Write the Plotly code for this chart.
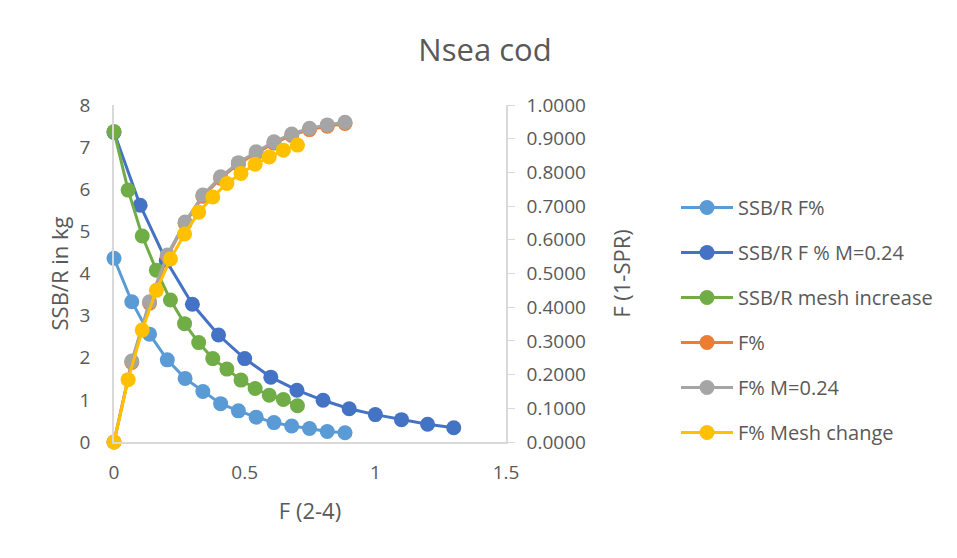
import plotly.graph_objects as go

# ---- data ----
x_f = [0, 0.068, 0.136, 0.204, 0.272, 0.340, 0.408, 0.476, 0.544, 0.612, 0.680, 0.748, 0.816, 0.884]
x_m024 = [0, 0.1, 0.2, 0.3, 0.4, 0.5, 0.6, 0.7, 0.8, 0.9, 1.0, 1.1, 1.2, 1.3]
x_mesh = [0, 0.054, 0.108, 0.162, 0.216, 0.270, 0.324, 0.378, 0.432, 0.486, 0.540, 0.594, 0.648, 0.702]

ssbr_f = [4.36, 3.33, 2.56, 1.95, 1.51, 1.20, 0.91, 0.74, 0.59, 0.46, 0.38, 0.32, 0.25, 0.22]
ssbr_f_m024 = [7.35, 5.62, 4.30, 3.27, 2.54, 1.98, 1.54, 1.23, 0.99, 0.79, 0.65, 0.53, 0.42, 0.34]
ssbr_mesh = [7.37, 5.98, 4.89, 4.08, 3.37, 2.81, 2.36, 1.98, 1.73, 1.47, 1.27, 1.11, 1.01, 0.86]

fpct = [0, 0.236, 0.412, 0.551, 0.649, 0.729, 0.783, 0.825, 0.857, 0.887, 0.910, 0.927, 0.937, 0.945]
fpct_m024 = [0, 0.240, 0.416, 0.555, 0.653, 0.733, 0.787, 0.829, 0.861, 0.891, 0.914, 0.931, 0.941, 0.949]
fpct_mesh = [0, 0.185, 0.332, 0.450, 0.543, 0.617, 0.682, 0.727, 0.767, 0.797, 0.824, 0.846, 0.866, 0.881]

names = ["SSB/R F%", "SSB/R F % M=0.24", "SSB/R mesh increase", "F%", "F% M=0.24", "F% Mesh change"]
colors = ["#5B9BD5", "#4472C4", "#70AD47", "#ED7D31", "#A5A5A5", "#FFC000"]

FONT = "Open Sans"
TXT = "#595959"
AXC = "#D9D9D9"

series = [
    (x_f, ssbr_f, "y"),
    (x_m024, ssbr_f_m024, "y"),
    (x_mesh, ssbr_mesh, "y"),
    (x_f, fpct, "y2"),
    (x_f, fpct_m024, "y2"),
    (x_mesh, fpct_mesh, "y2"),
]

fig = go.Figure()
for i, (xs, ys, ax) in enumerate(series):
    fig.add_trace(go.Scatter(
        x=xs, y=ys, yaxis=ax, name=names[i], mode="lines+markers",
        line=dict(color=colors[i], width=3),
        marker=dict(color=colors[i], size=15),
        cliponaxis=False, legendgroup=f"g{i}",
    ))

W, H = 949, 550          # page body has an 8px margin
L, T, PW, PH = 106, 97, 392, 337

fig.update_layout(
    width=W, height=H,
    margin=dict(l=L, r=W - L - PW, t=T, b=H - T - PH),
    paper_bgcolor="white", plot_bgcolor="white",
    font=dict(family=FONT, color=TXT, size=19),
    title=dict(text="Nsea cod", x=477 / W, xanchor="center", y=1 - 42 / H, yanchor="middle",
               font=dict(family=FONT, size=31, color=TXT)),
    xaxis=dict(range=[0, 1.5], tickvals=[0, 0.5, 1, 1.5], ticktext=["0", "0.5", "1", "1.5"],
               showgrid=False, zeroline=False, showline=True, linecolor=AXC, linewidth=1.5,
               ticks="", ticklabelstandoff=12,
               title=dict(text="F (2-4)", standoff=20, font=dict(size=22, color=TXT))),
    yaxis=dict(range=[0, 8], tickvals=list(range(9)), showgrid=False, zeroline=False,
               showline=True, linecolor=AXC, linewidth=1.5, ticks="", ticklabelstandoff=18,
               title=dict(text="SSB/R in kg", standoff=5, font=dict(size=22, color=TXT))),
    yaxis2=dict(range=[0, 1], overlaying="y", side="right", tickvals=[i / 10 for i in range(11)],
                tickformat=".4f", showgrid=False, zeroline=False, showline=True, linecolor=AXC,
                linewidth=1.5, ticks="outside", ticklen=7, tickcolor=AXC, ticklabelstandoff=8,
                title=dict(text="F (1-SPR)", standoff=30, font=dict(size=22, color=TXT))),
    legend=dict(x=(668 - L) / PW, y=(T + PH - 180) / PH, xanchor="left", yanchor="top",
                tracegroupgap=16, itemwidth=52, font=dict(size=20, color=TXT),
                bgcolor="rgba(0,0,0,0)"),
    showlegend=True,
)

fig.write_html("out.html")
